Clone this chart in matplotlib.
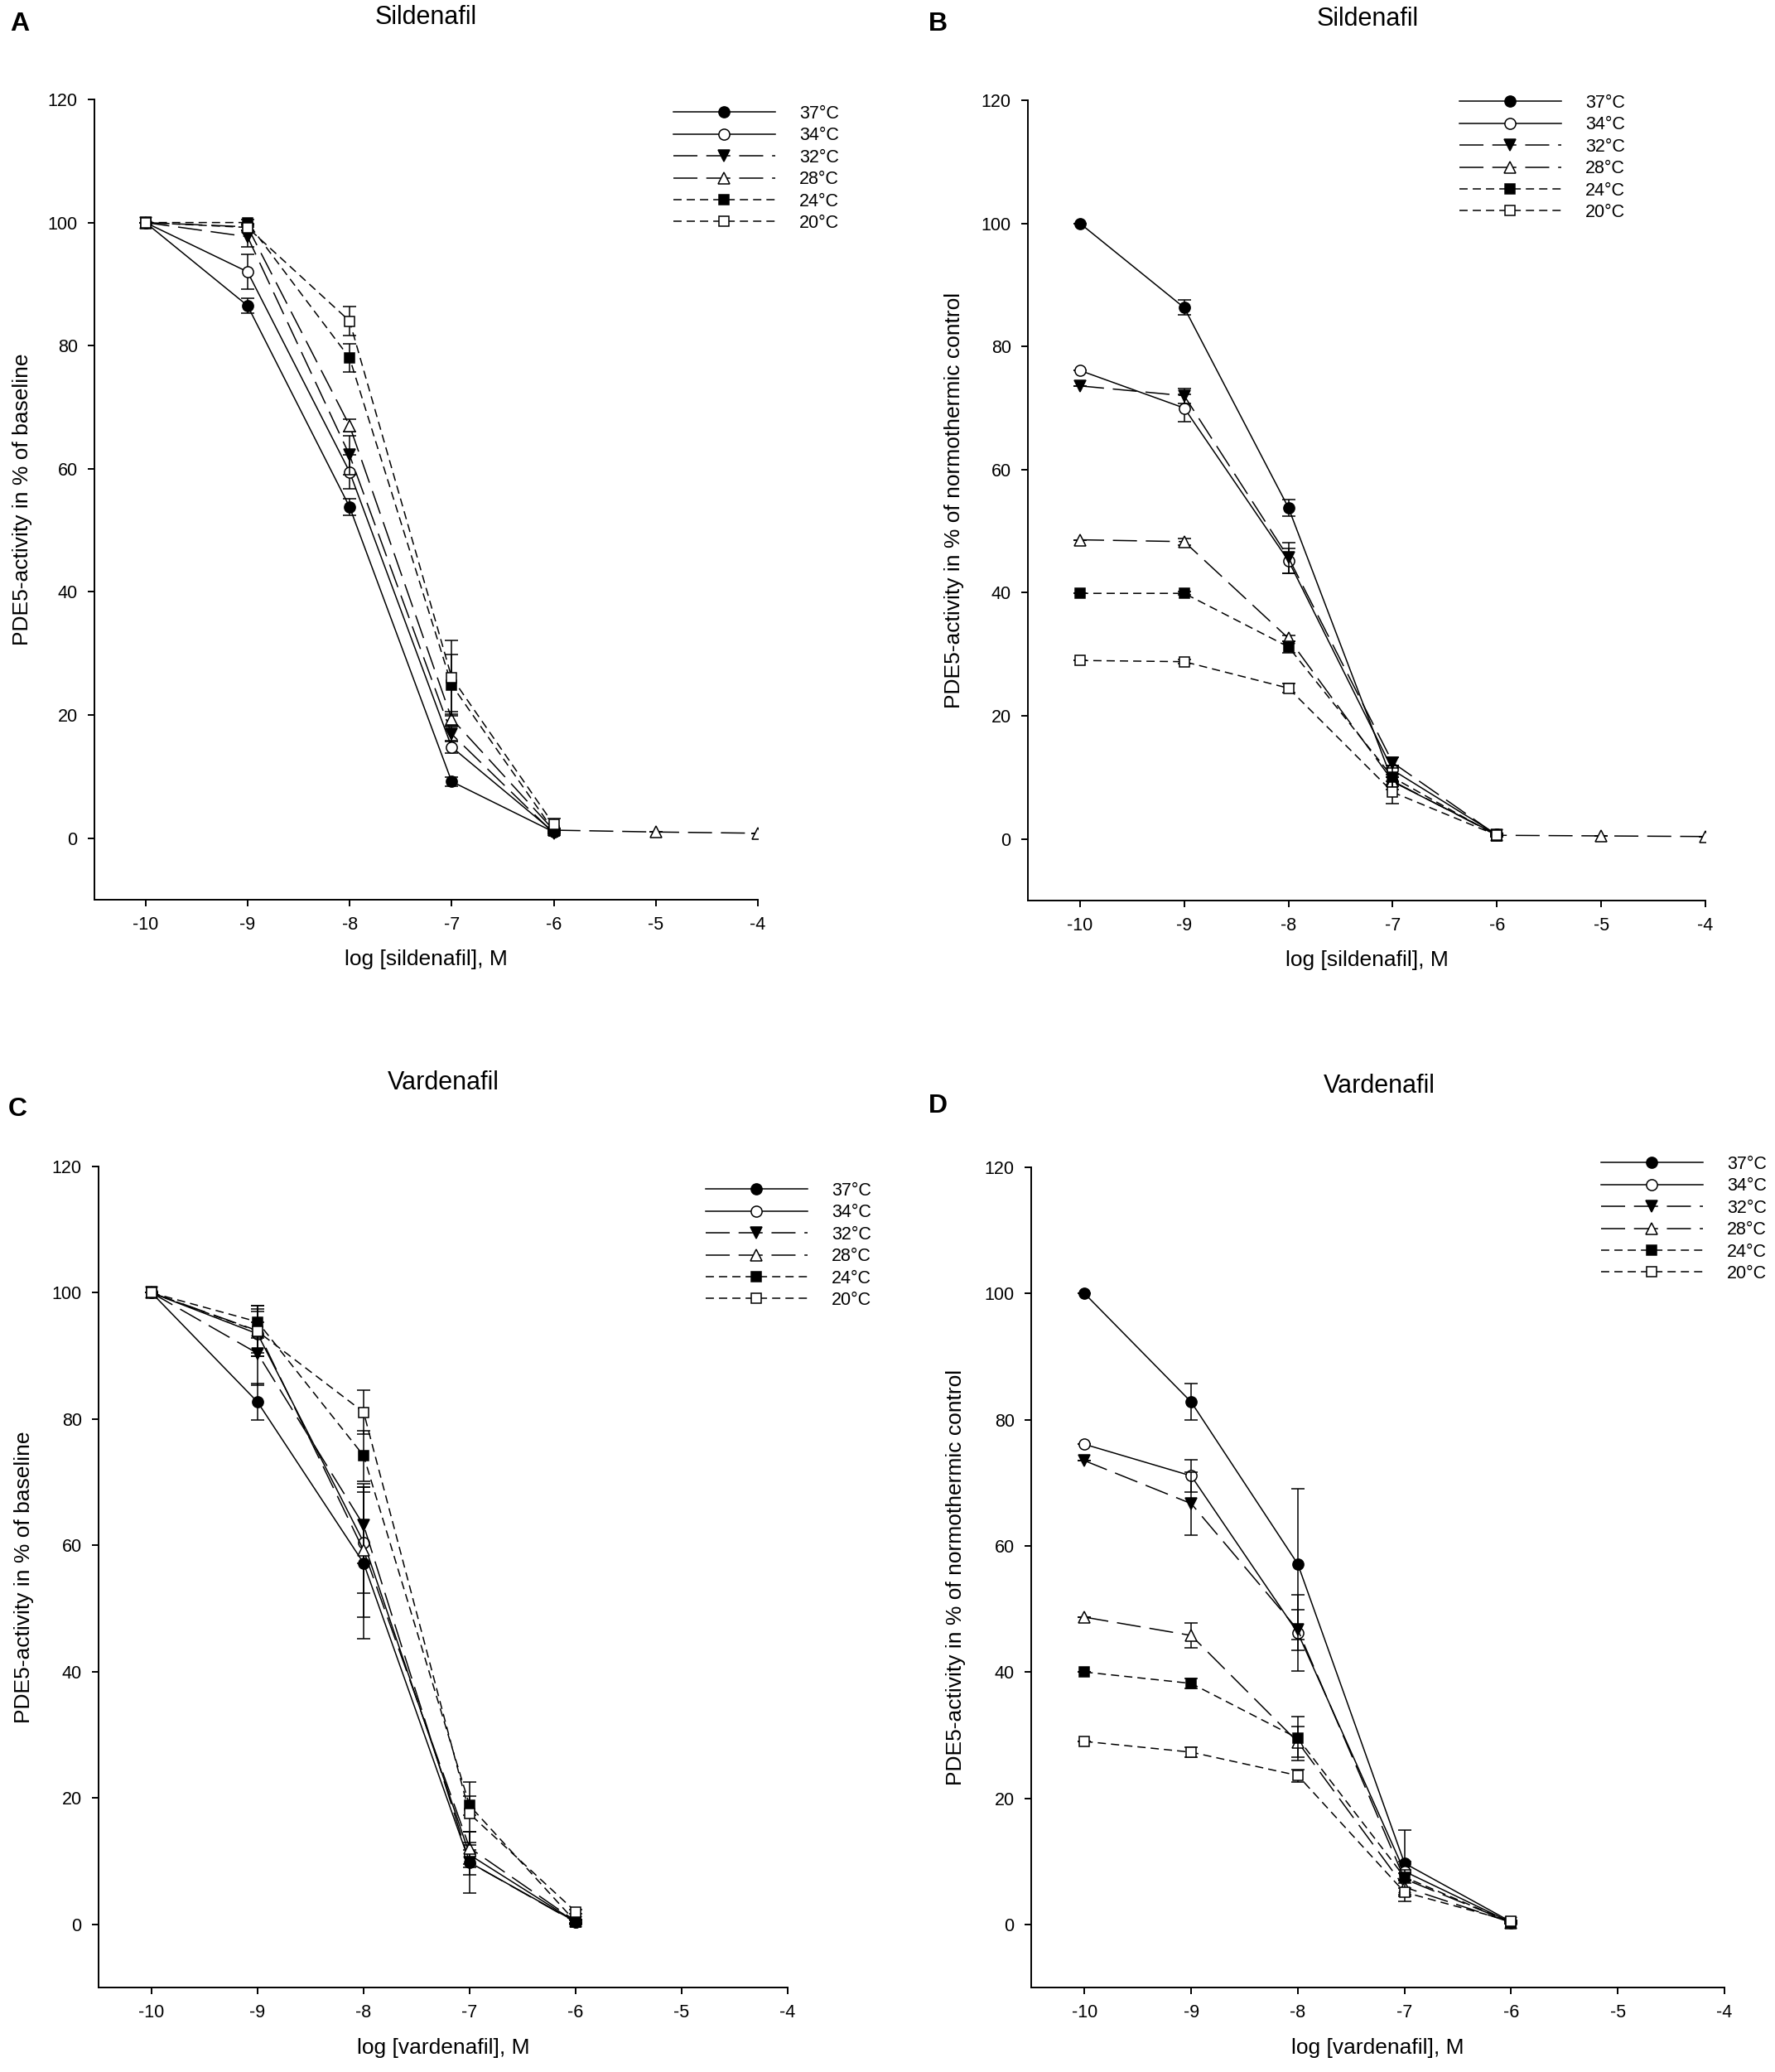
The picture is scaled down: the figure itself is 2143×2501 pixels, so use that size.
import matplotlib
matplotlib.use("Agg")
import matplotlib.pyplot as plt

plt.rcParams["font.family"] = ["Liberation Sans", "DejaVu Sans"]
plt.rcParams["axes.unicode_minus"] = False

# concentrations (log M)
conc = [-10, -9, -8, -7, -6]
conc_long = [-10, -9, -8, -7, -6, -5, -4]
temps = ["37°C", "34°C", "32°C", "28°C", "24°C", "20°C"]

# A: sildenafil, % of baseline
sil_base = [
    [100, 86.5, 53.8, 9.2, 1.0],
    [100, 92.0, 59.5, 14.8, 1.0],
    [100, 97.7, 62.2, 16.9, 0.8],
    [100, 99.3, 67.0, 19.4, 1.3, 1.0, 0.8],
    [100, 100.0, 78.0, 24.9, 1.2],
    [100, 99.2, 84.0, 26.1, 2.2],
]
sil_base_err = [
    [0, 1.2, 1.4, 0.7, 0.3],
    [0, 2.8, 2.7, 1.0, 0.3],
    [0, 1.6, 3.2, 1.2, 0.3],
    [0, 0.5, 1.0, 1.2, 0.3, 0, 0],
    [0, 0.5, 2.3, 5.0, 0.4],
    [0, 0.5, 2.3, 6.0, 1.0],
]

# B: sildenafil, % of normothermic control
sil_norm = [
    [100, 86.3, 53.8, 9.3, 0.7],
    [76.1, 70.0, 45.2, 11.2, 0.7],
    [73.6, 72.0, 45.7, 12.4, 0.6],
    [48.6, 48.3, 32.6, 9.4, 0.6, 0.5, 0.4],
    [39.9, 39.9, 31.2, 10.0, 0.5],
    [29.0, 28.8, 24.5, 7.6, 0.6],
]
sil_norm_err = [
    [0, 1.2, 1.3, 0.7, 0.2],
    [0, 2.2, 2.0, 0.8, 0.2],
    [0, 1.2, 2.5, 0.9, 0.2],
    [0, 0.5, 0.5, 0.6, 0.1, 0, 0],
    [0, 0.3, 0.9, 2.0, 0.2],
    [0, 0.3, 0.7, 1.8, 0.3],
]

# C: vardenafil, % of baseline
var_base = [
    [100, 82.7, 57.2, 9.8, 0.4],
    [100, 93.5, 60.5, 11.0, 0.4],
    [100, 90.4, 63.2, 9.8, 0.3],
    [100, 94.0, 59.2, 12.1, 0.5],
    [100, 95.4, 74.2, 18.8, 0.4],
    [100, 93.9, 81.1, 17.5, 2.0],
]
var_base_err = [
    [0, 2.9, 12.0, 4.8, 0.3],
    [0, 3.5, 8.0, 2.0, 0.3],
    [0, 5.0, 6.0, 2.0, 0.3],
    [0, 3.5, 10.5, 2.5, 0.3],
    [0, 2.5, 4.0, 1.5, 0.3],
    [0, 4.0, 3.5, 5.0, 0.3],
]

# D: vardenafil, % of normothermic control
var_norm = [
    [100, 82.8, 57.1, 9.7, 0.4],
    [76.1, 71.1, 46.2, 8.4, 0.3],
    [73.5, 66.7, 46.7, 7.2, 0.3],
    [48.7, 45.8, 28.9, 5.9, 0.3],
    [40.0, 38.2, 29.5, 7.5, 0.3],
    [29.0, 27.3, 23.6, 5.1, 0.5],
]
var_norm_err = [
    [0, 2.9, 12.0, 5.2, 0.2],
    [0, 2.6, 6.1, 1.5, 0.2],
    [0, 5.0, 3.2, 1.5, 0.2],
    [0, 2.0, 2.4, 1.2, 0.2],
    [0, 0.8, 3.5, 0.6, 0.2],
    [0, 0.8, 1.0, 1.5, 0.2],
]

LONG = (19, 7)
MED = (6.5, 4)
styles = [
    dict(marker="o", mfc="black", dashes=None, ms=9.5),
    dict(marker="o", mfc="white", dashes=None, ms=9.5),
    dict(marker="v", mfc="black", dashes=LONG, ms=10),
    dict(marker="^", mfc="white", dashes=LONG, ms=10),
    dict(marker="s", mfc="black", dashes=MED, ms=9),
    dict(marker="s", mfc="white", dashes=MED, ms=9),
]

W, H = 2143, 2501
fig = plt.figure(figsize=(W / 100, H / 100), dpi=100)

panels = [
    # rect (px), data, err, xlabel, ylabel, legend anchor, title pos, letter pos, title, letter
    ([114, 915, 120, 1086], sil_base, sil_base_err, "log [sildenafil], M",
     "PDE5-activity in % of baseline", (813, 127), (514, 21), (24, 29), "Sildenafil", "A"),
    ([1241, 2059, 121, 1087], sil_norm, sil_norm_err, "log [sildenafil], M",
     "PDE5-activity in % of normothermic control", (1762, 114), (1651, 23), (1132, 29), "Sildenafil", "B"),
    ([119, 951, 1408, 2399], var_base, var_base_err, "log [vardenafil], M",
     "PDE5-activity in % of baseline", (852, 1427), (535, 1307), (21, 1339), "Vardenafil", "C"),
    ([1245, 2082, 1409, 2399], var_norm, var_norm_err, "log [vardenafil], M",
     "PDE5-activity in % of normothermic control", (1933, 1395), (1665, 1311), (1132, 1335), "Vardenafil", "D"),
]

for rect, data, err, xlab, ylab, leg_xy, title_xy, letter_xy, title, letter in panels:
    x0, x1, top, bot = rect
    ax = fig.add_axes([x0 / W, 1 - bot / H, (x1 - x0) / W, (bot - top) / H])
    handles = []
    for i, (vals, e) in enumerate(zip(data, err)):
        xs = conc_long[:len(vals)]
        st = styles[i]
        ax.errorbar(xs, vals, yerr=e, fmt="none", ecolor="black", elinewidth=1.1,
                    capsize=6, capthick=1.1, zorder=2 + i)
        line, = ax.plot(xs, vals, color="black", lw=1.1, marker=st["marker"],
                        mfc=st["mfc"], mec="black", mew=1.1, ms=st["ms"],
                        label=temps[i], zorder=2 + i)
        if st["dashes"] is not None:
            line.set_dashes(st["dashes"])
        handles.append(line)

    ax.set_xlim(-10.5, -4)
    ax.set_ylim(-10, 120)
    ax.set_xticks([-10, -9, -8, -7, -6, -5, -4])
    ax.set_yticks([0, 20, 40, 60, 80, 100, 120])
    for s in ("top", "right"):
        ax.spines[s].set_visible(False)
    for s in ("left", "bottom"):
        ax.spines[s].set_linewidth(1.4)
    ax.tick_params(direction="out", length=6, width=1.4, pad=8.6, labelsize=15.5)
    ax.set_xlabel(xlab, fontsize=19)
    ax.set_ylabel(ylab, fontsize=19)
    ax.xaxis.set_label_coords(0.5, -0.062)
    ax.yaxis.set_label_coords(-0.094, 0.5)

    ax.legend(handles=handles, loc="upper left",
              bbox_to_anchor=(leg_xy[0] / W, 1 - leg_xy[1] / H),
              bbox_transform=fig.transFigure, frameon=False, borderpad=0,
              borderaxespad=0, handlelength=5.7, handletextpad=1.36,
              labelspacing=0.25, numpoints=1, fontsize=15.5)

    fig.text(title_xy[0] / W, 1 - title_xy[1] / H, title, ha="center", va="center",
             fontsize=22)
    fig.text(letter_xy[0] / W, 1 - letter_xy[1] / H, letter, ha="center", va="center",
             fontsize=23, fontweight="bold")

fig.savefig("out.png", dpi=100)
